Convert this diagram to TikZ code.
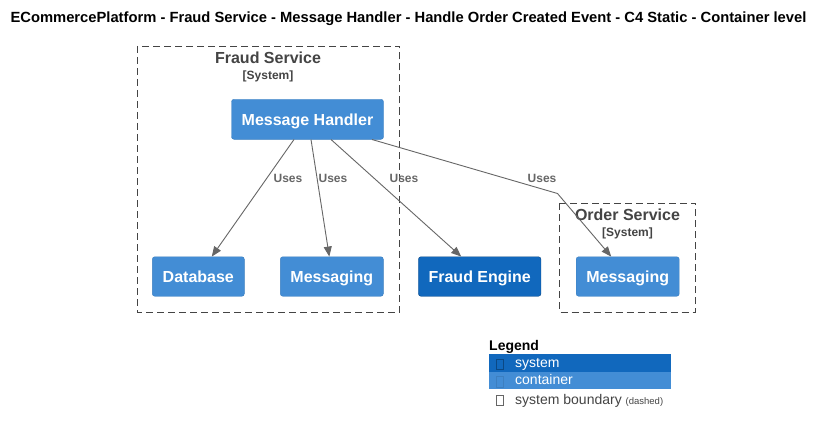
\documentclass[tikz,border=0pt]{standalone}
\usepackage{fontspec}
\setmainfont{Liberation Sans}
\usetikzlibrary{arrows.meta}
\definecolor{cont}{HTML}{438DD5}
\definecolor{contb}{HTML}{3C7FC0}
\definecolor{sys}{HTML}{1168BD}
\definecolor{sysb}{HTML}{0B4884}
\definecolor{bnd}{HTML}{444444}
\definecolor{rel}{HTML}{666666}
\tikzset{
  box/.style={rounded corners=2.5pt, text=white, inner sep=0pt,
    font=\fontsize{16}{19}\selectfont\bfseries, anchor=center,
    text height=11.5pt, text depth=0pt},
  containerbox/.style={box, fill=cont, draw=contb},
  systembox/.style={box, fill=sys, draw=sysb},
  boundary/.style={draw=bnd, line width=0.9pt, dash pattern=on 7pt off 4pt},
  btitle/.style={text=bnd, font=\fontsize{16}{19}\selectfont\bfseries, inner sep=0pt},
  btype/.style={text=bnd, font=\fontsize{12}{14}\selectfont\bfseries, inner sep=0pt},
  relline/.style={draw=rel, line width=0.9pt, -{Triangle[length=10pt,width=8pt]}},
  rellabel/.style={text=rel, font=\fontsize{12}{14}\selectfont\bfseries, inner sep=0pt},
  tofu/.style={draw=#1, line width=0.7pt, minimum width=7pt, minimum height=10.5pt, inner sep=0pt},
  legtext/.style={anchor=west, inner sep=0pt, font=\fontsize{14}{16}\selectfont,
    text height=7.3pt, text depth=0pt},
}
\begin{document}
\begin{tikzpicture}[x=1pt,y=-1pt]
\useasboundingbox[fill=white] (0,0) rectangle (824,433);

% title
\node[inner sep=0pt, font=\fontsize{14.75}{17}\selectfont\bfseries] (title) at (408.5,19)
  {ECommercePlatform - Fraud Service - Message Handler - Handle Order Created Event - C4 Static - Container level};

% boundaries
\draw[boundary] (137,46) rectangle (399.5,312);
\node[btitle] (fstitle) at (268,58) {Fraud Service};
\node[btype] (fstype) at (268,76) {[System]};

\draw[boundary] (559.5,203) rectangle (695.5,312);
\node[btitle] (ostitle) at (627.5,215) {Order Service};
\node[btype] (ostype) at (627.5,233) {[System]};

% containers
\node[containerbox, minimum width=152pt, minimum height=40pt] (mh) at (307.5,119.3) {Message Handler};
\node[containerbox, minimum width=92pt, minimum height=39.5pt] (db) at (198.3,276.5) {Database};
\node[containerbox, minimum width=103pt, minimum height=39.5pt] (fmsg) at (331.8,276.5) {Messaging};
\node[systembox, minimum width=122.5pt, minimum height=39.5pt] (fe) at (479.7,276.5) {Fraud Engine};
\node[containerbox, minimum width=103pt, minimum height=39.5pt] (omsg) at (627.7,276.5) {Messaging};

% relationships
\draw[relline] ([xshift=-13.5pt]mh.south) -- ([xshift=13.5pt]db.north);
\draw[relline] ([xshift=3.5pt]mh.south) -- ([xshift=-2.5pt]fmsg.north);
\draw[relline] ([xshift=23.5pt]mh.south) -- ([xshift=-18.5pt]fe.north);
\coordinate (bend) at (557.5,193.5);
\draw[relline] ([xshift=64.5pt]mh.south) -- (bend) -- ([xshift=-16.5pt]omsg.north);

\node[rellabel] (l1) at (288,178.5) {Uses};
\node[rellabel] (l2) at (333,178.5) {Uses};
\node[rellabel] (l3) at (404,178.5) {Uses};
\node[rellabel] (l4) at (542,178.5) {Uses};

% legend
\node[anchor=west, inner sep=0pt, font=\fontsize{14}{16}\selectfont\bfseries] (legend) at (489,346.5) {Legend};
\fill[sys] (488.5,354) rectangle (670.5,371.5);
\fill[cont] (488.5,371.5) rectangle (670.5,389);
\node[tofu=sysb] (t1) at (499.7,364.3) {};
\node[tofu=contb] (t2) at (499.7,381.7) {};
\node[tofu=rel] (t3) at (499.7,400.5) {};
\node[legtext, text=white] (lsys) at (515,364) {system};
\node[legtext, text=white] (lcont) at (515,381) {container};
\node[legtext, text=bnd] (lbnd) at (515,401) {system boundary \fontsize{9.5}{10}\selectfont(dashed)};
\end{tikzpicture}
\end{document}
